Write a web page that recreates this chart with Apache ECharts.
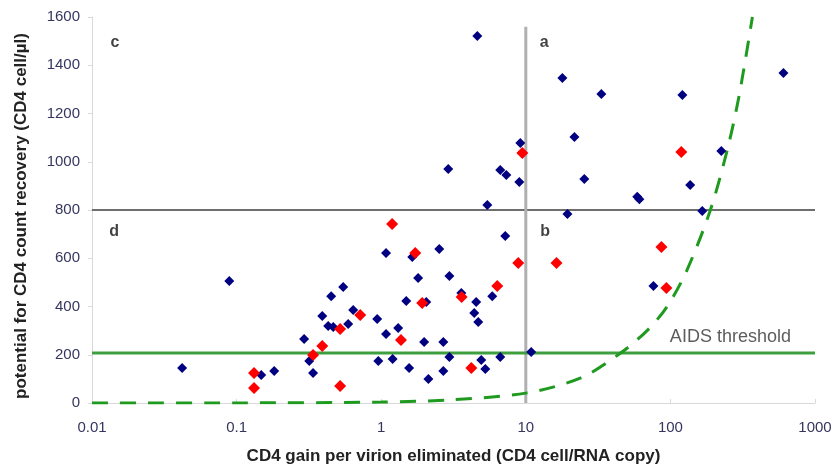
<!DOCTYPE html>
<html>
<head>
<meta charset="utf-8">
<script src="https://cdn.jsdelivr.net/npm/echarts@6/dist/echarts.min.js"></script>
<style>html,body{margin:0;padding:0;background:#fff}#c{width:832px;height:469px}</style>
</head>
<body>
<div id="c"></div>
<script>
// Blue patients: [CD4 gain per virion eliminated, potential CD4 recovery]
const blueX = [0.042,0.089,0.148,0.182,0.293,0.318,0.338,0.391,0.451,0.43,0.466,0.546,0.591,0.64,0.938,0.955,1.08,1.08,1.2,1.31,1.49,1.56,1.64,1.80,1.98,2.05,2.12,2.52,2.69,2.69,2.96,2.96,3.58,4.40,4.54,4.69,4.92,5.25,5.42,5.86,6.66,7.21,10.9,4.62,9.16,2.91,6.66,7.33,9.02,21.7,17.9,33.3,121,605,225,25.4,137,59,61,166,19.4,76.3];
const blueY = [145,506,116,133,265,174,124,361,443,319,315,481,327,385,348,174,622,286,182,311,423,145,605,518,253,419,99,638,253,133,526,191,456,373,419,336,178,141,821,443,191,692,211,1521,1078,970,966,945,916,1103,1347,1281,1277,1368,1045,928,904,855,845,796,783,485];
// Red patients
const redX = [0.132,0.132,0.338,0.391,0.52,0.52,0.716,1.19,1.37,1.72,1.92,3.6,4.2,6.35,8.87,9.46,16.3,86.7,93.8,119];
const redY = [124,62,199,236,307,70,365,742,261,622,415,439,145,485,580,1036,580,647,477,1040];
// Dashed curve
const curveX = [0.01,0.1,1,3,10,24,45,69,95,130,189,250,300,369];
const curveY = [0,0.4,4,13,41,104,206,300,400,550,800,1060,1280,1600];
// Reference lines
const aidsThreshold = 207;
const recoveryCut = 800;
const gainCut = 10;
const xTicks = ['0.01','0.1','1','10','100','1000'];
const quadLabels = [['c',0.0144,1492],['a',13.4,1492],['d',0.0142,709],['b',13.6,709]];

const zip = (xs, ys) => xs.map((x, i) => [x, ys[i]]);
const FONT = 'Liberation Sans';

const chart = echarts.init(document.getElementById('c'), null, {renderer: 'canvas'});
chart.setOption({
  animation: false,
  grid: {left: 92, right: 17, top: 17, bottom: 66, containLabel: false, outerBoundsMode: 'none'},
  xAxis: {
    type: 'log', logBase: 10, min: 0.01, max: 1000,
    name: 'CD4 gain per virion eliminated (CD4 cell/RNA copy)',
    nameLocation: 'middle', nameGap: 45,
    nameTextStyle: {fontFamily: FONT, fontWeight: 'bold', fontSize: 17, color: '#222'},
    axisLine: {lineStyle: {color: '#d9d9d9', width: 1}},
    axisTick: {show: true, inside: true, length: 4, lineStyle: {color: '#d9d9d9'}},
    splitLine: {show: false},
    minorTick: {show: false},
    axisLabel: {
      margin: 17, fontFamily: FONT, fontSize: 15, color: '#35355f',
      formatter: v => { const e = Math.round(Math.log10(v)); return xTicks[e + 2] || ''; }
    }
  },
  yAxis: {
    type: 'value', min: 0, max: 1600, interval: 200,
    name: 'potential for CD4 count recovery (CD4 cell/µl)',
    nameLocation: 'middle', nameGap: 62, nameRotate: 90,
    nameTextStyle: {fontFamily: FONT, fontWeight: 'bold', fontSize: 17, color: '#222', padding: [0, 12, 0, 0]},
    axisLine: {show: true, lineStyle: {color: '#d9d9d9', width: 1}},
    axisTick: {show: true, length: 4, lineStyle: {color: '#d9d9d9'}},
    splitLine: {show: false},
    axisLabel: {margin: 12, fontFamily: FONT, fontSize: 15, color: '#35355f', formatter: v => String(v)}
  },
  series: [
    {
      type: 'line', data: [[0.01, recoveryCut], [1000, recoveryCut]],
      symbol: 'none', lineStyle: {color: '#6e6e6e', width: 2}, z: 1, silent: true
    },
    {
      type: 'line', data: [[gainCut, 0], [gainCut, 1560]],
      symbol: 'none', lineStyle: {color: '#b0b0b0', width: 3}, z: 1, silent: true
    },
    {
      type: 'line', data: [[0.01, aidsThreshold], [1000, aidsThreshold]],
      symbol: 'none', lineStyle: {color: '#3f9f3f', width: 3}, z: 2, silent: true
    },
    {
      type: 'line', data: zip(curveX, curveY), smooth: 0.3,
      symbol: 'none', lineStyle: {color: '#1e9a1e', width: 3, type: [16, 12]}, z: 2, silent: true
    },
    {
      type: 'scatter', data: zip(blueX, blueY), symbol: 'diamond', symbolSize: 10,
      itemStyle: {color: '#000080', opacity: 1}, z: 5
    },
    {
      type: 'scatter', data: zip(redX, redY), symbol: 'diamond', symbolSize: 12,
      itemStyle: {color: '#ff0000', opacity: 1}, z: 6
    },
    {
      type: 'scatter', symbolSize: 0, silent: true, z: 7,
      data: quadLabels.map(d => ({value: [d[1], d[2]], name: d[0]})),
      label: {show: true, position: 'inside', formatter: p => p.name,
        fontFamily: FONT, fontWeight: 'bold', fontSize: 16, color: '#111'}
    },
    {
      type: 'scatter', symbolSize: 0, silent: true, z: 7,
      data: [{value: [260, 274], name: 'AIDS threshold'}],
      label: {show: true, position: 'inside', formatter: p => p.name,
        fontFamily: FONT, fontSize: 18, color: '#333'}
    }
  ]
});
</script>
</body>
</html>
